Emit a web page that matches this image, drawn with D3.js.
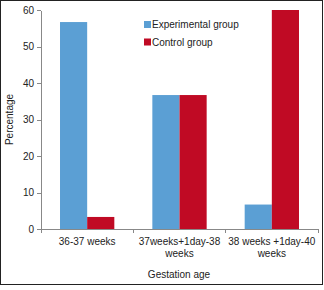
<!DOCTYPE html>
<html lang="en">
<head>
<meta charset="UTF-8">
<title>Gestation age</title>
<style>
body { margin: 0; background: #fff; }
svg { display: block; font-family: "Liberation Sans", Arial, sans-serif; }
.axis path, .axis line { fill: none; stroke: #888; shape-rendering: crispEdges; }
.axis text { font-size: 10px; fill: #222; }
</style>
</head>
<body>
<script src="https://cdn.jsdelivr.net/npm/d3@7/dist/d3.min.js"></script>
<script>
let categories = ['36-37 weeks', '37weeks+1day-38 weeks', '38 weeks +1day-40 weeks'];
let catLines = [['36-37  weeks'], ['37weeks+1day-38', 'weeks'], ['38 weeks +1day-40', 'weeks']];
let seriesNames = ['Experimental group', 'Control group'];
let experimental = [56.7, 36.7, 6.7];
let control = [3.3, 36.7, 60];
let yTicks = [0, 10, 20, 30, 40, 50, 60];
let colors = ['#5b9fd4', '#c00a24'];

let width = 324, height = 290;
let margin = {left: 41, right: 6, top: 10, bottom: 61};

let svg = d3.select('body').append('svg')
    .attr('width', width)
    .attr('height', height);

// outer frame
svg.append('rect')
    .attr('x', 0.5).attr('y', 0.5)
    .attr('width', 322).attr('height', 284)
    .attr('fill', 'none')
    .attr('stroke', '#222');

let x = d3.scaleBand()
    .domain(categories)
    .range([margin.left, width - margin.right])
    .paddingInner(0).paddingOuter(0);

let x1 = d3.scaleBand()
    .domain(seriesNames)
    .range([0, x.bandwidth()])
    .paddingOuter(0.7);

let y = d3.scaleLinear()
    .domain([0, 60])
    .range([height - margin.bottom, margin.top]);

let data = categories.map((c, i) => ({cat: c, values: [experimental[i], control[i]]}));

let groups = svg.selectAll('.grp')
    .data(data)
    .enter()
    .append('g')
    .attr('class', 'grp')
    .attr('transform', d => `translate(${x(d.cat)}, 0)`);

groups.selectAll('rect')
    .data(d => d.values.map((v, k) => ({name: seriesNames[k], v: v, k: k})))
    .enter()
    .append('rect')
    .attr('x', d => x1(d.name))
    .attr('y', d => y(d.v))
    .attr('width', x1.bandwidth())
    .attr('height', d => y(0) - y(d.v))
    .attr('fill', d => colors[d.k]);

// y axis
svg.append('g')
    .attr('class', 'axis')
    .attr('transform', `translate(${margin.left}, 0)`)
    .call(d3.axisLeft(y).tickValues(yTicks).tickSize(4).tickSizeOuter(0).tickPadding(3));

// x axis
let xAxis = svg.append('g')
    .attr('class', 'axis')
    .attr('transform', `translate(0, ${y(0)})`)
    .call(d3.axisBottom(x).tickSize(0).tickFormat(''));
xAxis.selectAll('.tick').remove();
xAxis.selectAll('.sep')
    .data(d3.range(categories.length + 1))
    .enter()
    .append('line')
    .attr('x1', i => i < categories.length ? x(categories[i]) : x.range()[1])
    .attr('x2', i => i < categories.length ? x(categories[i]) : x.range()[1])
    .attr('y1', 0).attr('y2', 4);

// category labels
let catText = svg.selectAll('.catText')
    .data(categories)
    .enter()
    .append('text')
    .attr('class', 'catText')
    .attr('text-anchor', 'middle')
    .attr('font-size', '10px')
    .attr('fill', '#222')
    .attr('y', y(0) + 16);
catText.each(function (d, i) {
    d3.select(this).selectAll('tspan')
        .data(catLines[i])
        .enter()
        .append('tspan')
        .attr('x', x(d) + x.bandwidth() / 2)
        .attr('dy', (t, j) => j === 0 ? 0 : 12)
        .text(t => t);
});

// axis titles
svg.append('text')
    .attr('x', 179).attr('y', 278)
    .attr('text-anchor', 'middle')
    .attr('font-size', '10px')
    .attr('fill', '#222')
    .text('Gestation age');

svg.append('text')
    .attr('transform', `translate(13, ${(y(0) + y(60)) / 2}) rotate(-90)`)
    .attr('text-anchor', 'middle')
    .attr('font-size', '10px')
    .attr('fill', '#222')
    .text('Percentage');

// legend
let legend = svg.selectAll('.leg')
    .data(seriesNames)
    .enter()
    .append('g')
    .attr('class', 'leg')
    .attr('transform', (d, i) => `translate(144, ${21 + i * 17.5})`);
legend.append('rect')
    .attr('width', 7).attr('height', 7)
    .attr('fill', (d, i) => colors[i]);
legend.append('text')
    .attr('x', 8).attr('y', 7)
    .attr('font-size', '10px')
    .attr('fill', '#222')
    .text(d => d);
</script>
</body>
</html>
